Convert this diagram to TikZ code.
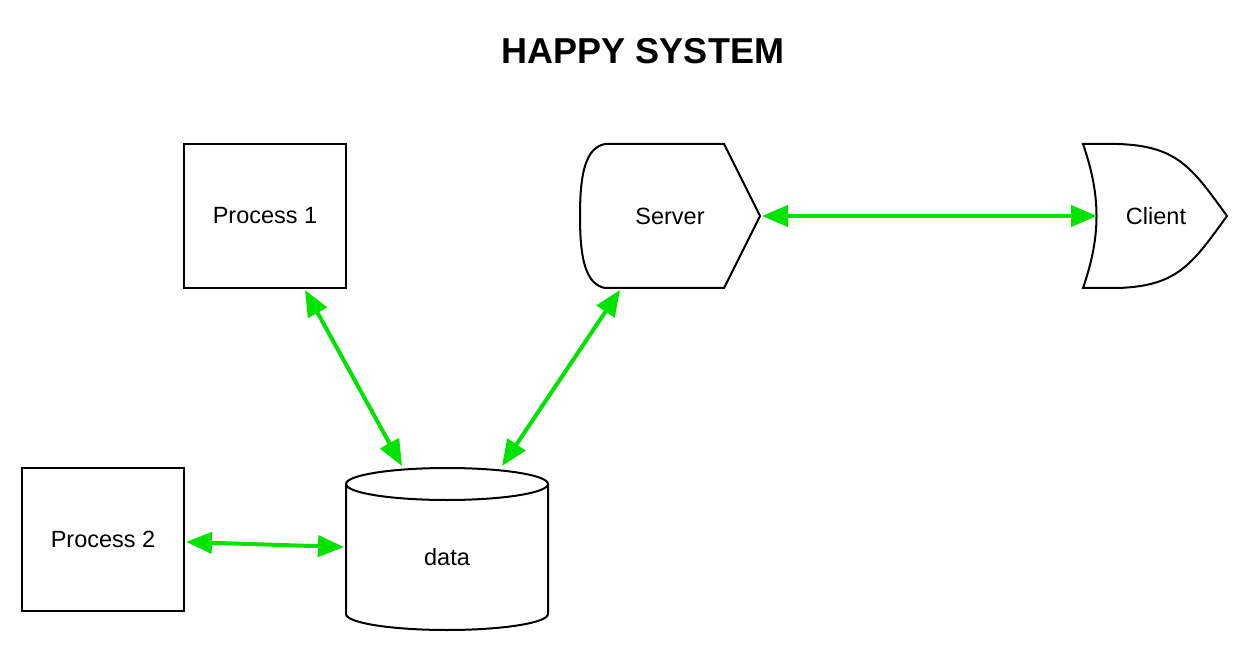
\documentclass[tikz,border=0pt]{standalone}
\usepackage{fontspec}
\setmainfont{Liberation Sans}
\usetikzlibrary{arrows.meta}
\definecolor{arrgreen}{RGB}{0,226,0}
\begin{document}
\begin{tikzpicture}[x=1pt,y=-1pt,
  shapeline/.style={draw=black,line width=2pt,line join=miter},
  label/.style={font=\fontsize{23.5}{27}\selectfont,inner sep=0pt},
  boxnode/.style={shapeline,minimum width=162pt,minimum height=144pt,inner sep=0pt,font=\fontsize{23.5}{27}\selectfont},
  link/.style={draw=arrgreen,line width=4pt,{Triangle[length=26pt,width=21pt]}-{Triangle[length=26pt,width=21pt]},shorten <=0pt,shorten >=0pt}]
\useasboundingbox (0,0) rectangle (1250,652);
\fill[white] (0,0) rectangle (1250,652);
% title
\node[font=\bfseries\fontsize{36}{42}\selectfont,inner sep=0pt] (title) at (643,51) {HAPPY SYSTEM};
% processes
\node[boxnode] (p1) at (265,216) {Process 1};
\node[boxnode,minimum height=143pt] (p2) at (103,539.5) {Process 2};
% server
\draw[shapeline] (605,144) -- (724,144) -- (760,216) -- (724,288) -- (605,288)
  .. controls (584,284) and (580,254) .. (580,216)
  .. controls (580,178) and (584,148) .. (605,144) -- cycle;
\node[label] (server) at (670,216) {Server};
% client
\draw[shapeline] (1083,144) -- (1118,144)
  .. controls (1178,146) and (1192,168) .. (1227,216)
  .. controls (1192,264) and (1178,286) .. (1118,288) -- (1083,288)
  .. controls (1101,236) and (1101,196) .. (1083,144) -- cycle;
\node[label] (client) at (1156,216) {Client};
% data cylinder
\draw[shapeline] (346,484) -- (346,614)
  .. controls (346,622.8) and (391.2,630) .. (447,630)
  .. controls (502.8,630) and (548,622.8) .. (548,614) -- (548,484);
\draw[shapeline] (447,484) ellipse [x radius=101, y radius=16];
\node[label] (data) at (447,557) {data};
% connector end points
\coordinate (p1b) at (305,290);
\coordinate (dtl) at (402,466);
\coordinate (srvb) at (620,290);
\coordinate (dtr) at (502,466);
\coordinate (srvr) at (762,216);
\coordinate (clil) at (1097,216);
\coordinate (p2r) at (186,542);
\coordinate (dtleft) at (344,547);
% connectors
\draw[link] (p1b) -- (dtl);
\draw[link] (srvb) -- (dtr);
\draw[link] (srvr) -- (clil);
\draw[link] (p2r) -- (dtleft);
\end{tikzpicture}
\end{document}
